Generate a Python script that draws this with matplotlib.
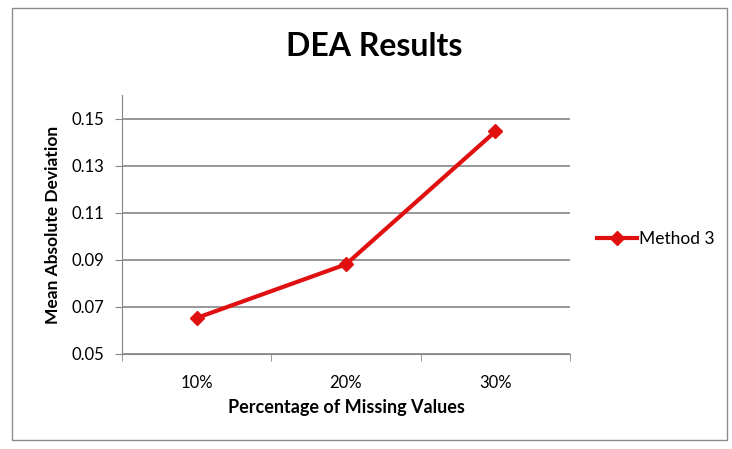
import matplotlib.pyplot as plt
from matplotlib.patches import Rectangle

# 数据
categories = ['10%', '20%', '30%']
method3 = [0.0653, 0.0881, 0.1445]
yticks = [0.05, 0.07, 0.09, 0.11, 0.13, 0.15]

plt.rcParams['font.family'] = ['Lato', 'DejaVu Sans']

fig = plt.figure(figsize=(7.32, 4.49), dpi=100)
fig.patch.set_facecolor('white')
# 图表外框
fig.add_artist(Rectangle((12 / 732, 1 - 440 / 449), 715 / 732, 432 / 449,
                         transform=fig.transFigure, fill=False,
                         edgecolor='#8c8c8c', linewidth=1.0))

ax = fig.add_axes([122 / 732, 95 / 449, 448 / 732, 259 / 449])

x = list(range(len(categories)))
ax.plot(x, method3, color='#e01010', linewidth=3, marker='D', markersize=7.5,
        label='Method 3', zorder=3)

ax.set_xlim(-0.5, len(categories) - 0.5)
ax.set_ylim(0.05, 0.16)
ax.set_yticks(yticks)
ax.set_yticklabels(['%.2f' % v for v in yticks], fontsize=12)
ax.set_xticks(x)
ax.set_xticklabels(categories, fontsize=12)
ax.tick_params(axis='x', length=0, pad=15)
ax.tick_params(axis='y', length=5, color='#868686', pad=8)
ax.set_xticks([i - 0.5 for i in range(len(categories) + 1)], minor=True)
ax.tick_params(axis='x', which='minor', length=5, color='#868686')

ax.grid(axis='y', color='#868686', linewidth=1.2)
for s in ['top', 'right']:
    ax.spines[s].set_visible(False)
for s in ['left', 'bottom']:
    ax.spines[s].set_color('#868686')

fig.text(374 / 732, 1 - 47 / 449, 'DEA Results', fontsize=23, fontweight='bold',
         ha='center', va='center')
ax.set_xlabel('Percentage of Missing Values', fontsize=13, fontweight='bold', labelpad=6)
ax.set_ylabel('Mean Absolute Deviation', fontsize=12.5, fontweight='bold', labelpad=7)

ax.legend(loc='center left', bbox_to_anchor=(1.025, 0.445), frameon=False,
          fontsize=12.5, handlelength=2.3, handletextpad=0.15)

fig.savefig('out.png', dpi=100)
